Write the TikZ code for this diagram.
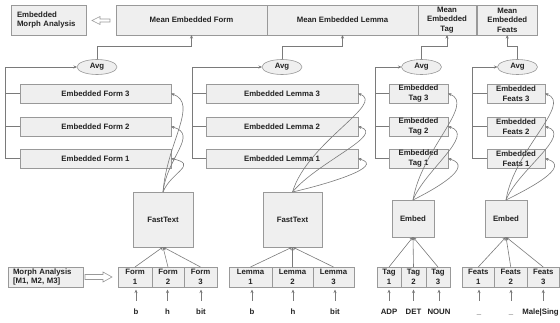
\documentclass[tikz,border=0pt]{standalone}
\usepackage{fontspec}
\setmainfont{Liberation Sans}
\usetikzlibrary{shapes.geometric,arrows.meta,calc}
\definecolor{boxfill}{HTML}{EFEFEF}
\definecolor{boxline}{HTML}{999999}
\definecolor{lineg}{HTML}{7A7A7A}
\definecolor{txt}{HTML}{222222}
\begin{document}
\begin{tikzpicture}[x=1pt,y=-1pt,
  every node/.style={font=\fontsize{7.8}{9.6}\selectfont\bfseries, text=txt, inner sep=0pt, outer sep=0pt},
  bx/.style={draw=boxline, fill=boxfill, line width=0.6pt, align=center},
  avgs/.style={ellipse, draw=boxline, fill=boxfill, line width=0.6pt, minimum width=40pt, minimum height=15pt},
  lbl/.style={anchor=base, text height=6pt, text depth=1.5pt},
  conn/.style={draw=lineg, line width=0.6pt},
  carr/.style={conn, -{Stealth[length=3.5pt,width=3pt]}},
  larr/.style={carr, shorten <=8pt, shorten >=2.5pt},
  hollow/.style={draw=boxline, fill=white, line width=0.6pt, line join=miter}
]
\useasboundingbox (0,0) rectangle (560,323);
% top row
\node[bx, minimum width=75pt, minimum height=30pt, text width=63pt, align=left, inner xsep=6pt] (ema) at (48.5,20) {Embedded\\Morph Analysis};
\node[bx, minimum width=151pt, minimum height=30pt] (mform) at (191.5,20) {Mean Embedded Form};
\node[bx, minimum width=151pt, minimum height=30pt] (mlemma) at (342.5,20) {Mean Embedded Lemma};
\node[bx, minimum width=58pt, minimum height=30pt] (mtag) at (447,20) {Mean\\Embedded\\Tag};
\node[bx, minimum width=59.5pt, minimum height=30pt] (mfeats) at (507.25,20) {Mean\\Embedded\\Feats};
\draw[hollow] ($(ema.east)+(6,0.5)$) -- ++(8,-4) -- ++(0,2.5) -- ++(10,0) -- ++(0,3) -- ++(-10,0) -- ++(0,2.5) -- cycle;
% avg
\node[avgs] (avg1) at (97,67) {Avg};
\node[avgs] (avg2) at (282,67) {Avg};
\node[avgs] (avg3) at (421.5,67) {Avg};
\node[avgs] (avg4) at (517.5,67) {Avg};
\coordinate (ytop) at (0,46);
\draw[carr] (avg1.north) -- (avg1.north |- ytop) -| (mform.south);
\draw[carr] (avg2.north) -- (avg2.north |- ytop) -| (mlemma.south);
\draw[carr] (avg3.north) -- (avg3.north |- ytop) -| (mtag.south);
\draw[carr] (avg4.north) -- (avg4.north |- ytop) -| (mfeats.south);
% embedded rows
\node[bx, minimum width=151pt, minimum height=19pt] (ef3) at (95.5,93.5) {Embedded Form 3};
\node[bx, minimum width=151pt, minimum height=19pt] (ef2) at (95.5,126.5) {Embedded Form 2};
\node[bx, minimum width=151pt, minimum height=19pt] (ef1) at (95.5,158.5) {Embedded Form 1};
\node[bx, minimum width=152pt, minimum height=19pt] (el3) at (282,93.5) {Embedded Lemma 3};
\node[bx, minimum width=152pt, minimum height=19pt] (el2) at (282,126.5) {Embedded Lemma 2};
\node[bx, minimum width=152pt, minimum height=19pt] (el1) at (282,158.5) {Embedded Lemma 1};
\node[bx, minimum width=59pt, minimum height=19pt] (et3) at (418.5,93.5) {Embedded\\Tag 3};
\node[bx, minimum width=59pt, minimum height=19pt] (et2) at (418.5,126.5) {Embedded\\Tag 2};
\node[bx, minimum width=59pt, minimum height=19pt] (et1) at (418.5,158.5) {Embedded\\Tag 1};
\node[bx, minimum width=58pt, minimum height=19pt] (eft3) at (516,93.5) {Embedded\\Feats 3};
\node[bx, minimum width=58pt, minimum height=19pt] (eft2) at (516,126.5) {Embedded\\Feats 2};
\node[bx, minimum width=58pt, minimum height=19pt] (eft1) at (516,158.5) {Embedded\\Feats 1};
% brackets
\coordinate (bx1) at (5,0);
\coordinate (bx2) at (192,0);
\coordinate (bx3) at (375,0);
\coordinate (bx4) at (472,0);
\draw[carr] (ef1.west) -- (ef1.west -| bx1) |- (avg1.west);
\draw[conn] (ef2.west) -- (ef2.west -| bx1);
\draw[conn] (ef3.west) -- (ef3.west -| bx1);
\draw[carr] (el1.west) -- (el1.west -| bx2) |- (avg2.west);
\draw[conn] (el2.west) -- (el2.west -| bx2);
\draw[conn] (el3.west) -- (el3.west -| bx2);
\draw[carr] (et1.west) -- (et1.west -| bx3) |- (avg3.west);
\draw[conn] (et2.west) -- (et2.west -| bx3);
\draw[conn] (et3.west) -- (et3.west -| bx3);
\draw[carr] (eft1.west) -- (eft1.west -| bx4) |- (avg4.west);
\draw[conn] (eft2.west) -- (eft2.west -| bx4);
\draw[conn] (eft3.west) -- (eft3.west -| bx4);
% encoders
\node[bx, minimum width=60pt, minimum height=55pt] (ft1) at (163,219.5) {FastText};
\node[bx, minimum width=59pt, minimum height=55pt] (ft2) at (292.5,219.5) {FastText};
\node[bx, minimum width=42pt, minimum height=37pt] (emb1) at (413,218.5) {Embed};
\node[bx, minimum width=42pt, minimum height=37pt] (emb2) at (506,218.5) {Embed};
% curves
\draw[carr] (ft1.north) .. controls ($(ft1.north)+(8,-20)$) and ($(ef1.east)+(28,6)$) .. (ef1.east);
\draw[carr] (ft1.north) .. controls ($(ft1.north)+(4,-35)$) and ($(ef2.east)+(28,8)$) .. (ef2.east);
\draw[carr] (ft1.north) .. controls ($(ft1.north)+(4,-50)$) and ($(ef3.east)+(28,10)$) .. (ef3.east);
\draw[carr] (ft2.north) .. controls ($(ft2.north)+(35,-8)$) and ($(el1.east)+(28,8)$) .. (el1.east);
\draw[carr] (ft2.north) .. controls ($(ft2.north)+(25,-30)$) and ($(el2.east)+(28,8)$) .. (el2.east);
\draw[carr] (ft2.north) .. controls ($(ft2.north)+(15,-50)$) and ($(el3.east)+(28,10)$) .. (el3.east);
\draw[carr] (emb1.north) .. controls ($(emb1.north)+(20,-10)$) and ($(et1.east)+(28,8)$) .. (et1.east);
\draw[carr] (emb1.north) .. controls ($(emb1.north)+(12,-30)$) and ($(et2.east)+(28,8)$) .. (et2.east);
\draw[carr] (emb1.north) .. controls ($(emb1.north)+(8,-50)$) and ($(et3.east)+(28,10)$) .. (et3.east);
\draw[carr] (emb2.north) .. controls ($(emb2.north)+(20,-10)$) and ($(eft1.east)+(28,8)$) .. (eft1.east);
\draw[carr] (emb2.north) .. controls ($(emb2.north)+(12,-30)$) and ($(eft2.east)+(28,8)$) .. (eft2.east);
\draw[carr] (emb2.north) .. controls ($(emb2.north)+(8,-50)$) and ($(eft3.east)+(28,10)$) .. (eft3.east);
% input cells
\node[bx, minimum width=75pt, minimum height=20pt, text width=65pt, align=left, inner xsep=5pt] (ma) at (45.5,277) {Morph Analysis\\{[M1, M2, M3]}};
\draw[hollow] ($(ma.east)+(2,-2.5)$) -- ++(18,0) -- ++(0,-2.5) -- ++(9,5) -- ++(-9,5) -- ++(0,-2.5) -- ++(-18,0) -- cycle;
\node[bx, minimum width=34pt, minimum height=20pt] (f1) at (135,277) {Form\\1};
\node[bx, minimum width=32pt, minimum height=20pt] (f2) at (168,277) {Form\\2};
\node[bx, minimum width=33pt, minimum height=20pt] (f3) at (200.5,277) {Form\\3};
\node[bx, minimum width=43pt, minimum height=20pt] (l1) at (250.5,277) {Lemma\\1};
\node[bx, minimum width=41pt, minimum height=20pt] (l2) at (292.5,277) {Lemma\\2};
\node[bx, minimum width=41pt, minimum height=20pt] (l3) at (333.5,277) {Lemma\\3};
\node[bx, minimum width=24pt, minimum height=20pt] (t1) at (389,277) {Tag\\1};
\node[bx, minimum width=25pt, minimum height=20pt] (t2) at (413.5,277) {Tag\\2};
\node[bx, minimum width=24pt, minimum height=20pt] (t3) at (438,277) {Tag\\3};
\node[bx, minimum width=32.5pt, minimum height=20pt] (s1) at (478.25,277) {Feats\\1};
\node[bx, minimum width=32.5pt, minimum height=20pt] (s2) at (510.75,277) {Feats\\2};
\node[bx, minimum width=32.5pt, minimum height=20pt] (s3) at (543.25,277) {Feats\\3};
\foreach \c in {f1,f2,f3} \draw[carr] (\c.north) -- (ft1.south);
\foreach \c in {l1,l2,l3} \draw[carr] (\c.north) -- (ft2.south);
\foreach \c in {t1,t2,t3} \draw[carr] (\c.north) -- (emb1.south);
\foreach \c in {s1,s2,s3} \draw[carr] (\c.north) -- (emb2.south);
% tokens
\node[lbl] (wf1) at (136,315) {b};
\node[lbl] (wf2) at (167.5,315) {h};
\node[lbl] (wf3) at (201,315) {bit};
\node[lbl] (wl1) at (252,315) {b};
\node[lbl] (wl2) at (293,315) {h};
\node[lbl] (wl3) at (335,315) {bit};
\node[lbl] (wt1) at (389,315) {ADP};
\node[lbl] (wt2) at (413.5,315) {DET};
\node[lbl] (wt3) at (439,315) {NOUN};
\node[lbl] (ws1) at (479,315) {\_};
\node[lbl] (ws2) at (511,315) {\_};
\node[lbl] (ws3) at (540.5,315) {Male|Sing};
\draw[larr] (wf1.north) -- (wf1.north |- f1.south);
\draw[larr] (wf2.north) -- (wf2.north |- f2.south);
\draw[larr] (wf3.north) -- (wf3.north |- f3.south);
\draw[larr] (wl1.north) -- (wl1.north |- l1.south);
\draw[larr] (wl2.north) -- (wl2.north |- l2.south);
\draw[larr] (wl3.north) -- (wl3.north |- l3.south);
\draw[larr] (wt1.north) -- (wt1.north |- t1.south);
\draw[larr] (wt2.north) -- (wt2.north |- t2.south);
\draw[larr] (wt3.north) -- (wt3.north |- t3.south);
\draw[larr] (ws1.north) -- (ws1.north |- s1.south);
\draw[larr] (ws2.north) -- (ws2.north |- s2.south);
\draw[larr] (s3.south |- ws3.north) -- (s3.south);
\end{tikzpicture}
\end{document}
